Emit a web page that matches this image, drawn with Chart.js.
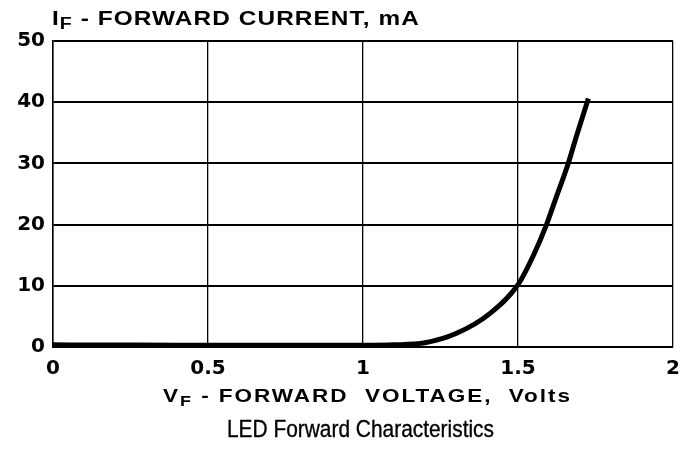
<!DOCTYPE html>
<html><head><meta charset="utf-8">
<script src="https://cdn.jsdelivr.net/npm/chart.js@4"></script>
<style>
html,body{margin:0;padding:0;background:#fff;}
#wrap{position:relative;width:690px;height:450px;overflow:hidden;background:#fff;}
canvas{position:absolute;left:0;top:0;}
.lbl{position:absolute;white-space:nowrap;line-height:1;color:#000;transform-origin:0 0;}
.b{font-family:"Liberation Sans",Arial,sans-serif;font-weight:bold;}
.sub{font-size:0.8em;position:relative;top:0.28em;}
</style></head>
<body><div id="wrap"><canvas id="c" width="690" height="450"></canvas>
<div id="ytitle" class="lbl b" style="left:52px;top:9px;font-size:19.5px">I<span class="sub">F</span> - FORWARD CURRENT, mA</div>
<div id="xtitle" class="lbl b" style="left:163px;top:387px;font-size:18px">V<span class="sub">F</span> - FORWARD&nbsp; VOLTAGE,&nbsp; Volts</div>
<div id="caption" class="lbl" style="left:227px;top:417px;font-size:24.5px;font-family:'Liberation Sans',Arial,sans-serif;-webkit-text-stroke:0.35px #000">LED Forward Characteristics</div>
</div>
<script>
// Data
const voltage = [0, 0.2, 0.4, 0.6, 0.8, 1.0, 1.1, 1.2, 1.3, 1.41, 1.5, 1.55, 1.592, 1.62, 1.662, 1.69, 1.727];
const current = [0.35, 0.33, 0.3, 0.3, 0.28, 0.28, 0.35, 0.7, 2.2, 5.5, 10.2, 15.0, 20, 24, 30, 34.7, 40.6];
const xTicks = [0, 0.5, 1, 1.5, 2];
const xTickLabels = ['0', '0.5', '1', '1.5', '2'];
const yTicks = [0, 10, 20, 30, 40, 50];
const yTickLabels = ['0', '10', '20', '30', '40', '50'];

function fit(id, target, sx){
  const el = document.getElementById(id);
  const n = el.textContent.length;
  const w0 = el.getBoundingClientRect().width;
  const ls = (target / sx - w0) / n;
  el.style.letterSpacing = ls + 'px';
  el.style.transform = 'scaleX(' + sx + ')';
}
function fitScale(id, target){
  const el = document.getElementById(id);
  const w0 = el.getBoundingClientRect().width;
  el.style.transform = 'scaleX(' + (target / w0) + ')';
}
fit('ytitle', 368, 1.25);
fit('xtitle', 409, 1.25);
fitScale('caption', 267);

const tickFont = {family: 'DejaVu Sans', weight: 'bold', size: 20, lineHeight: 1.2};
new Chart(document.getElementById('c'), {
  type: 'line',
  data: {datasets: [{
    data: voltage.map((v, i) => ({x: v, y: current[i]})),
    borderColor: '#000', borderWidth: 5, pointRadius: 0,
    cubicInterpolationMode: 'monotone', fill: false, borderCapStyle: 'butt'
  }]},
  options: {
    responsive: false, animation: false, devicePixelRatio: 1,
    layout: {padding: {top: 41, right: 17, bottom: 73, left: 0}},
    plugins: {legend: {display: false}, tooltip: {enabled: false}, title: {display: false}},
    scales: {
      x: {
        type: 'linear', min: 0, max: 2,
        afterBuildTicks: s => { s.ticks = xTicks.map(v => ({value: v})); },
        afterFit: s => { s.height = 30; },
        ticks: {color: '#000', padding: 10, font: tickFont, maxRotation: 0, autoSkip: false,
          callback: (v, i) => xTickLabels[i]},
        grid: {color: '#000', lineWidth: 1.3, drawTicks: false},
        border: {color: '#000', width: 1.5}
      },
      y: {
        min: 0, max: 50,
        afterBuildTicks: s => { s.ticks = yTicks.map(v => ({value: v})); },
        afterFit: s => { s.width = 53; },
        ticks: {color: '#000', padding: 8, font: tickFont, callback: (v, i) => yTickLabels[i]},
        grid: {color: '#000', lineWidth: 2, drawTicks: false},
        border: {color: '#000', width: 1.5}
      }
    }
  }
});
</script>
</body></html>
